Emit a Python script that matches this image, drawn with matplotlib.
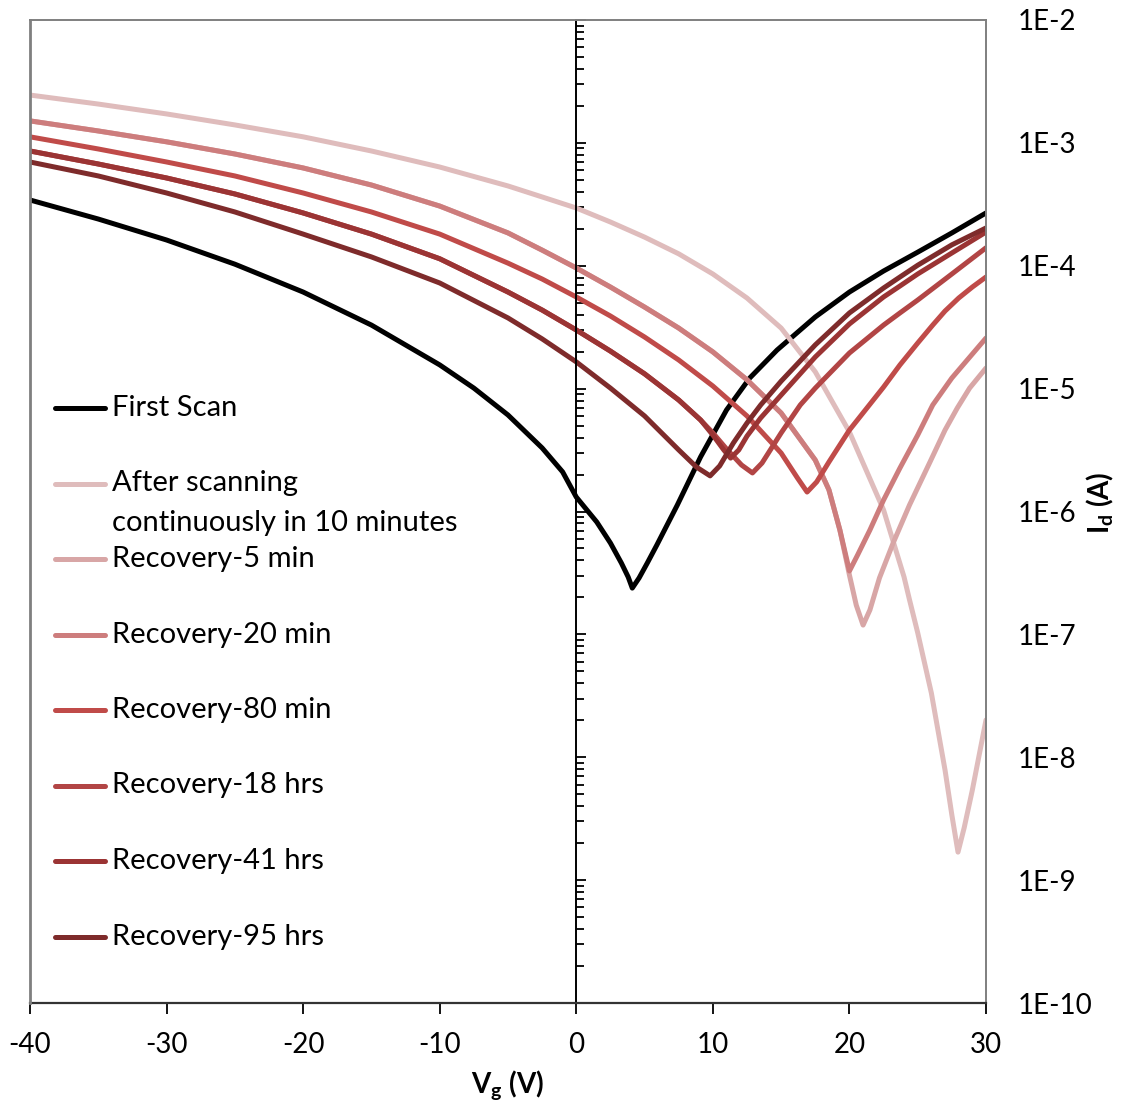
import numpy as np
import matplotlib
matplotlib.use('Agg')
import matplotlib.pyplot as plt
from matplotlib.ticker import FixedLocator, FuncFormatter, NullFormatter, LogLocator

plt.rcParams['font.family'] = ['Lato', 'DejaVu Sans']
plt.rcParams['mathtext.fontset'] = 'custom'
plt.rcParams['mathtext.rm'] = 'Lato'
plt.rcParams['mathtext.bf'] = 'Lato:bold'
plt.rcParams['axes.unicode_minus'] = False

# data: gate voltage Vg (V) and drain current Id (A)
first_v = [-40, -35, -30, -25, -20, -15, -10, -7.5, -5, -2.5, -1, 0, 1.5, 2.5, 3.3, 3.8,
           4.1, 4.6, 5.2, 5.9, 7.4, 9.1, 11.0, 12.7, 14.7, 17.5, 20, 22.5, 25, 27.5, 30]
first_i = [3.43e-4, 2.40e-4, 1.62e-4, 1.03e-4, 6.11e-5, 3.29e-5, 1.56e-5, 1.01e-5,
           6.10e-6, 3.29e-6, 2.10e-6, 1.31e-6, 8.21e-7, 5.54e-7, 3.81e-7, 2.93e-7,
           2.38e-7, 2.88e-7, 3.81e-7, 5.34e-7, 1.13e-6, 2.78e-6, 6.70e-6, 1.22e-5,
           2.06e-5, 3.83e-5, 6.11e-5, 9.06e-5, 1.29e-4, 1.85e-4, 2.69e-4]

after_v = [-40, -35, -30, -25, -20, -15, -10, -5, -2.5, 0, 2.5, 5, 7.5, 10, 12.5, 15,
           17.5, 20, 22.5, 24, 24.4, 25, 26, 27, 27.5, 27.95, 28.4, 29, 30]
after_i = [2.45e-3, 2.07e-3, 1.72e-3, 1.40e-3, 1.12e-3, 8.59e-4, 6.36e-4, 4.46e-4,
           3.63e-4, 2.95e-4, 2.27e-4, 1.71e-4, 1.25e-4, 8.57e-5, 5.46e-5, 3.11e-5,
           1.37e-5, 4.44e-6, 1.03e-6, 2.93e-7, 1.91e-7, 1.03e-7, 3.33e-8, 7.87e-9,
           3.39e-9, 1.69e-9, 2.66e-9, 5.41e-9, 2.01e-8]

rec5_v = [-40, -35, -30, -25, -20, -15, -10, -5, -2.5, 0, 2.5, 5, 7.5, 10, 12.5, 15,
          17.5, 18.5, 19.3, 20.0, 20.5, 21.0, 21.5, 22.2, 23.2, 24.4, 25.9, 27.0, 27.9,
          28.8, 30]
rec5_i = [1.51e-3, 1.25e-3, 1.02e-3, 8.12e-4, 6.25e-4, 4.54e-4, 3.06e-4, 1.85e-4,
          1.34e-4, 9.59e-5, 6.71e-5, 4.61e-5, 3.11e-5, 1.99e-5, 1.18e-5, 6.33e-6,
          2.62e-6, 1.50e-6, 7.07e-7, 3.04e-7, 1.73e-7, 1.19e-7, 1.58e-7, 2.88e-7,
          5.54e-7, 1.13e-6, 2.53e-6, 4.60e-6, 6.96e-6, 1.01e-5, 1.47e-5]

rec20_v = [-40, -35, -30, -25, -20, -15, -10, -5, -2.5, 0, 2.5, 5, 7.5, 10, 12.5, 15,
           17.5, 18.5, 19.3, 20.0, 20.6, 21.5, 22.5, 23.7, 25, 26.1, 27.5, 30]
rec20_i = [1.51e-3, 1.25e-3, 1.02e-3, 8.12e-4, 6.25e-4, 4.54e-4, 3.06e-4, 1.85e-4,
           1.34e-4, 9.59e-5, 6.71e-5, 4.61e-5, 3.11e-5, 1.99e-5, 1.18e-5, 6.33e-6,
           2.62e-6, 1.50e-6, 7.07e-7, 3.28e-7, 4.43e-7, 7.07e-7, 1.24e-6, 2.26e-6,
           4.19e-6, 7.36e-6, 1.22e-5, 2.58e-5]

rec80_v = [-40, -35, -30, -25, -20, -15, -10, -5, -2.5, 0, 2.5, 5, 7.5, 10, 12.5, 15,
           16.2, 16.9, 17.6, 18.5, 20, 22.5, 23.7, 25, 26.1, 27.0, 28.0, 29, 30]
rec80_i = [1.12e-3, 8.92e-4, 6.99e-4, 5.38e-4, 3.91e-4, 2.74e-4, 1.81e-4, 1.05e-4,
           7.80e-5, 5.57e-5, 3.90e-5, 2.63e-5, 1.71e-5, 1.05e-5, 5.99e-6, 2.99e-6,
           1.87e-6, 1.44e-6, 1.74e-6, 2.53e-6, 4.60e-6, 1.03e-5, 1.56e-5, 2.35e-5,
           3.29e-5, 4.28e-5, 5.46e-5, 6.71e-5, 8.10e-5]

rec18h_v = [-40, -35, -30, -25, -20, -15, -10, -5, -2.5, 0, 2.5, 5, 7.5, 9.1, 10, 11,
            12.1, 12.9, 13.6, 15, 16.4, 17.5, 20, 22.5, 23.7, 25, 27.5, 30]
rec18h_i = [8.59e-4, 6.73e-4, 5.18e-4, 3.84e-4, 2.69e-4, 1.81e-4, 1.14e-4, 6.11e-5,
            4.36e-5, 3.00e-5, 2.02e-5, 1.32e-5, 8.08e-6, 5.56e-6, 4.36e-6, 3.23e-6,
            2.39e-6, 2.06e-6, 2.48e-6, 4.36e-6, 7.36e-6, 1.01e-5, 1.95e-5, 3.29e-5,
            4.13e-5, 5.26e-5, 8.57e-5, 1.40e-4]

rec41h_v = [-40, -35, -30, -25, -20, -15, -10, -5, -2.5, 0, 2.5, 5, 7.5, 9.1, 10, 10.8,
            11.3, 11.9, 12.5, 13.5, 15, 17.5, 20, 22.5, 23.7, 25, 27.5, 30]
rec41h_i = [8.59e-4, 6.73e-4, 5.18e-4, 3.84e-4, 2.69e-4, 1.81e-4, 1.14e-4, 6.11e-5,
            4.36e-5, 3.00e-5, 2.02e-5, 1.32e-5, 8.08e-6, 5.56e-6, 4.19e-6, 3.17e-6,
            2.72e-6, 3.17e-6, 4.11e-6, 5.77e-6, 8.87e-6, 1.81e-5, 3.36e-5, 5.57e-5,
            6.84e-5, 8.57e-5, 1.27e-4, 1.88e-4]

rec95h_v = [-40, -35, -30, -25, -20, -15, -10, -5, -2.5, 0, 2.5, 5, 7.5, 8.8, 9.8,
            10.5, 11.5, 12.5, 13.5, 15, 17.5, 20, 22.5, 23.7, 25, 27.5, 30]
rec95h_i = [6.99e-4, 5.38e-4, 3.91e-4, 2.74e-4, 1.81e-4, 1.18e-4, 7.24e-5, 3.76e-5,
            2.54e-5, 1.65e-5, 1.01e-5, 5.99e-6, 3.17e-6, 2.30e-6, 1.95e-6, 2.35e-6,
            3.61e-6, 5.25e-6, 7.36e-6, 1.15e-5, 2.27e-5, 4.13e-5, 6.59e-5, 8.10e-5,
            1.01e-4, 1.48e-4, 2.03e-4]

labels = ['First Scan', 'After scanning\ncontinuously in 10 minutes', 'Recovery-5 min',
          'Recovery-20 min', 'Recovery-80 min', 'Recovery-18 hrs', 'Recovery-41 hrs',
          'Recovery-95 hrs']
colors = ['#000000', '#dfbcbc', '#d8a6a6', '#cd7d7d', '#c04b49', '#b24545', '#9b3434',
          '#7e2b2b']
series = [(first_v, first_i), (after_v, after_i), (rec5_v, rec5_i), (rec20_v, rec20_i),
          (rec80_v, rec80_i), (rec18h_v, rec18h_i), (rec41h_v, rec41h_i),
          (rec95h_v, rec95h_i)]

fig = plt.figure(figsize=(11.26, 11.16), dpi=100)
ax = fig.add_axes([30 / 1126, 1 - 1003 / 1116, 956 / 1126, 983 / 1116])

for (v, i), c in zip(series, colors):
    ax.plot(v, i, color=c, lw=3.6, solid_capstyle='round', solid_joinstyle='round')

ax.set_yscale('log')
ax.set_xlim(-40, 30)
ax.set_ylim(1e-10, 1e-2)

# y axis crosses at Vg = 0, its labels sit on the right
ax.spines['left'].set_position(('data', 0))
ax.spines['left'].set_color('black')
ax.spines['left'].set_linewidth(1.4)
for s in ['top', 'right']:
    ax.spines[s].set_color('#7f7f7f')
    ax.spines[s].set_linewidth(1.4)
ax.spines['bottom'].set_color('#333333')
ax.spines['bottom'].set_linewidth(1.6)
ax.axvline(-40, color='#7f7f7f', lw=2.0, clip_on=False, zorder=3)

ax.yaxis.set_major_locator(LogLocator(base=10, numticks=20))
ax.yaxis.set_minor_locator(LogLocator(base=10, subs=np.arange(2, 10), numticks=20))
ax.yaxis.set_major_formatter(FuncFormatter(lambda val, pos: '1E%d' % round(np.log10(val))))
ax.yaxis.set_minor_formatter(NullFormatter())
ax.tick_params(axis='y', which='both', direction='in', left=True, right=False,
               labelleft=False, labelright=True, width=1.3, color='black')
ax.tick_params(axis='y', which='major', length=7, pad=23, labelsize=20)
ax.tick_params(axis='y', which='minor', length=6)

ax.xaxis.set_major_locator(FixedLocator([-40, -30, -20, -10, 0, 10, 20, 30]))
ax.tick_params(axis='x', which='major', direction='out', length=8, width=1.3,
               pad=13, labelsize=20)
ax.xaxis.get_offset_text().set_visible(False)
ax.yaxis.get_offset_text().set_visible(False)

fig.text(508 / 1126, 1 - 1086 / 1116, r'V$_{\mathbf{g}}$ (V)', fontsize=20,
         fontweight='bold', ha='center', va='center')
fig.text(1100 / 1126, 1 - 503 / 1116, r'I$_{\mathbf{d}}$ (A)', fontsize=20,
         fontweight='bold', ha='center', va='center', rotation=90)

# legend drawn like the spreadsheet one: one row per series, equal spacing
row0 = (1003 - 408) / 983
step = 75.5 / 983
for k, (lab, c) in enumerate(zip(labels, colors)):
    yy = row0 - k * step
    ax.plot([0.026, 0.078], [yy, yy], transform=ax.transAxes, color=c, lw=3.6,
            solid_capstyle='round', clip_on=False)
    first, *rest = lab.split('\n')
    ax.text(0.086, yy, first, transform=ax.transAxes, va='center', ha='left', fontsize=21)
    for j, line in enumerate(rest):
        ax.text(0.086, yy - (j + 1) * 39 / 983, line, transform=ax.transAxes,
                va='center', ha='left', fontsize=21)

fig.savefig('out.png', dpi=100)
